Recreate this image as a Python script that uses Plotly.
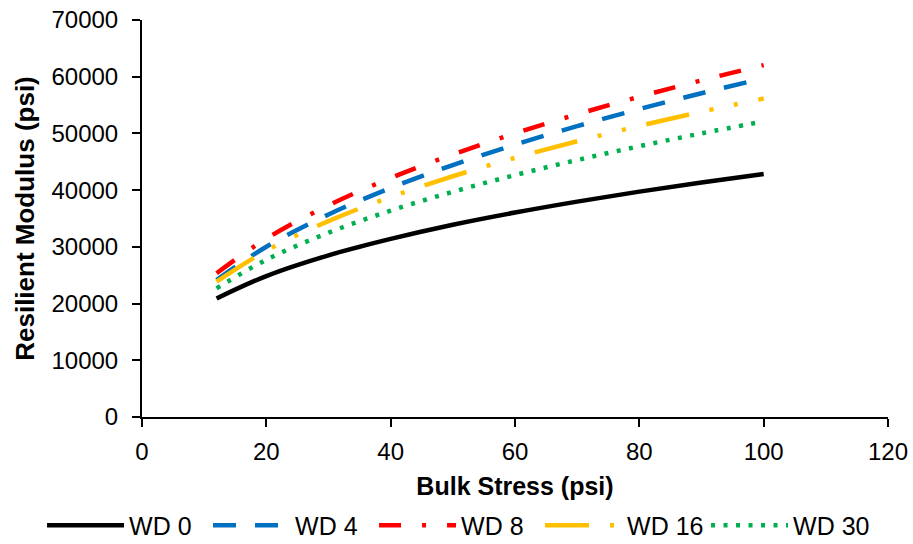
import plotly.graph_objects as go

bulk_stress = [12, 20, 30, 40, 50, 60, 70, 80, 90, 100]
wd0 = [20900, 24850, 28500, 31400, 33900, 36050, 37980, 39740, 41360, 42850]
wd4 = [24150, 30030, 35710, 40380, 44420, 48020, 51280, 54300, 57090, 59720]
wd8 = [25340, 31440, 37320, 42140, 46300, 50010, 53380, 56470, 59350, 62050]
wd16 = [23860, 29330, 34540, 38790, 42450, 45690, 48630, 51320, 53820, 56160]
wd30 = [22690, 27720, 32500, 36380, 39710, 42650, 45310, 47750, 50010, 52120]

series_names = ["WD 0", "WD 4", "WD 8", "WD 16", "WD 30"]
series_values = [wd0, wd4, wd8, wd16, wd30]
colors = ["#000000", "#0070C0", "#FF0000", "#FFC000", "#00B050"]
dashes = ["solid", "23px,19px", "22px,21px,4px,21px",
          "44px,21px,4px,21px,4px,21px", "4px,8.5px"]

x_ticks = [0, 20, 40, 60, 80, 100, 120]
y_ticks = [0, 10000, 20000, 30000, 40000, 50000, 60000, 70000]

FONT = "Liberation Sans, Arial, sans-serif"

fig = go.Figure()
for name, vals, col, dash in zip(series_names, series_values, colors, dashes):
    fig.add_trace(go.Scatter(
        x=bulk_stress, y=vals, name=name, mode="lines",
        line=dict(color=col, width=4.5, dash=dash, shape="spline"),
    ))

axis_common = dict(showgrid=False, zeroline=False, showline=True,
                   linecolor="black", linewidth=2, tickcolor="black",
                   tickwidth=2, ticklen=8, automargin=False)

fig.update_layout(
    width=913, height=544,
    margin=dict(l=141.5, r=24.5, t=20, b=127, autoexpand=False),
    paper_bgcolor="white", plot_bgcolor="white",
    font=dict(family=FONT, color="black", size=24),
    xaxis=dict(range=[0, 120], tickvals=x_ticks, ticks="outside",
               tickfont=dict(size=24), ticklabelstandoff=4,
               title=dict(text="<b>Bulk Stress (psi)</b>", font=dict(size=25), standoff=14),
               **axis_common),
    yaxis=dict(range=[0, 70000], tickvals=y_ticks, ticks="outside",
               tickformat="d", tickfont=dict(size=24), ticklabelstandoff=9,
               title=dict(text="<b>Resilient Modulus (psi)</b>", font=dict(size=26), standoff=9),
               **axis_common),
    xaxis2=dict(range=[0, 120], tickvals=x_ticks, ticks="inside",
                showticklabels=False, overlaying="x", anchor="y", side="bottom",
                **axis_common),
    yaxis2=dict(range=[0, 70000], tickvals=y_ticks, ticks="inside",
                showticklabels=False, overlaying="y", anchor="x", side="left",
                **axis_common),
    showlegend=True,
    legend=dict(orientation="h", x=-0.134, xanchor="left", y=-0.273,
                yanchor="middle", font=dict(size=25), itemwidth=77,
                entrywidth=74, entrywidthmode="pixels",
                bgcolor="rgba(0,0,0,0)", tracegroupgap=0),
)

fig.write_html("out.html")
